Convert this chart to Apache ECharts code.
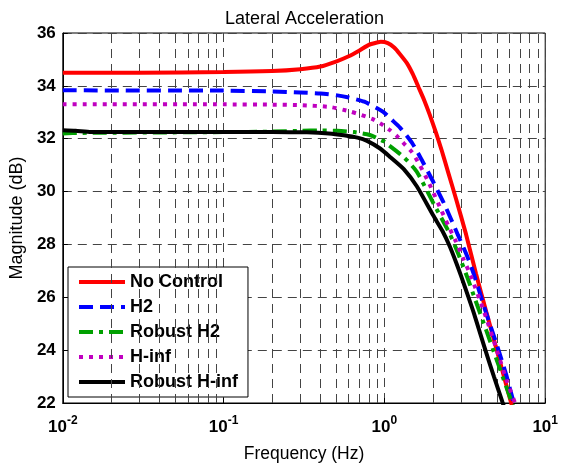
<!DOCTYPE html>
<html>
<head>
<meta charset="utf-8">
<script src="https://cdn.jsdelivr.net/npm/echarts/dist/echarts.min.js"></script>
<style>
  html, body { margin: 0; padding: 0; background: #fff; }
  #chart { width: 561px; height: 468px; }
</style>
</head>
<body>
<div id="chart"></div>
<script>
// series names
var seriesNames = ['No Control', 'H2', 'Robust H2', 'H-inf', 'Robust H-inf']

// No Control
var noControlFreq = [0.01, 0.03, 0.1, 0.2, 0.3, 0.4, 0.5, 0.6, 0.7, 0.8, 0.9, 0.95, 1.05, 1.15, 1.25, 1.38, 1.5, 1.63, 1.77, 1.91, 2.1, 2.26, 2.5, 2.79, 3.22, 3.71, 4.3, 5.0, 6.08, 7.0]
var noControlMag = [34.5, 34.5, 34.52, 34.56, 34.63, 34.73, 34.92, 35.12, 35.34, 35.55, 35.64, 35.67, 35.62, 35.45, 35.2, 34.86, 34.45, 33.95, 33.45, 32.92, 32.2, 31.6, 30.7, 29.72, 28.38, 26.9, 25.45, 24.0, 22.1, 20.8]

// H2
var h2Freq = [0.01, 0.1, 0.2, 0.3, 0.4, 0.51, 0.6, 0.75, 0.9, 1.0, 1.11, 1.25, 1.38, 1.5, 1.63, 1.74, 2.0, 2.37, 2.87, 3.3, 3.61, 4.27, 5.0, 5.7, 6.38, 7.0]
var h2Mag = [33.83, 33.82, 33.79, 33.75, 33.71, 33.64, 33.56, 33.4, 33.15, 32.98, 32.72, 32.42, 32.1, 31.8, 31.42, 31.1, 30.4, 29.5, 28.35, 27.5, 26.85, 25.45, 24.2, 23.1, 22.0, 21.2]

// Robust H2
var robustH2Freq = [0.01, 0.013, 0.1, 0.2, 0.3, 0.4, 0.51, 0.65, 0.78, 0.84, 0.99, 1.04, 1.32, 1.59, 2.06, 2.54, 2.9, 3.29, 3.67, 4.3, 4.92, 5.6, 6.38, 7.0]
var robustH2Mag = [32.2, 32.22, 32.25, 32.27, 32.3, 32.31, 32.3, 32.25, 32.17, 32.11, 31.9, 31.8, 31.3, 30.75, 29.45, 28.42, 27.6, 26.73, 25.91, 24.75, 23.74, 22.78, 21.8, 21.1]

// H-inf
var hinfFreq = [0.01, 0.1, 0.2, 0.3, 0.46, 0.62, 0.84, 0.96, 1.08, 1.19, 1.32, 1.48, 1.66, 1.9, 2.21, 2.5, 2.79, 3.1, 3.45, 4.17, 5.0, 5.8, 6.53, 7.0]
var hinfMag = [33.3, 33.3, 33.29, 33.27, 33.2, 33.02, 32.75, 32.55, 32.33, 32.11, 31.82, 31.5, 31.0, 30.3, 29.42, 28.7, 28.1, 27.45, 26.8, 25.45, 24.0, 22.8, 21.95, 21.4]

// Robust H-inf
var robustHinfFreq = [0.01, 0.012, 0.015, 0.1, 0.2, 0.33, 0.45, 0.56, 0.68, 0.78, 0.94, 1.09, 1.32, 1.59, 2.01, 2.3, 2.54, 2.8, 3.0, 3.6, 4.27, 4.8, 5.41, 6.0]
var robustHinfMag = [32.32, 32.3, 32.25, 32.25, 32.25, 32.24, 32.2, 32.13, 32.04, 31.92, 31.63, 31.3, 30.85, 30.2, 29.1, 28.5, 27.95, 27.3, 26.8, 25.4, 23.95, 23.0, 22.05, 21.25]

// ticks
var xTickExps = ['-2', '-1', '0', '1']
var xMinorTicks = [0.02, 0.03, 0.04, 0.05, 0.06, 0.07, 0.08, 0.09,
  0.2, 0.3, 0.4, 0.5, 0.6, 0.7, 0.8, 0.9,
  2, 3, 4, 5, 6, 7, 8, 9]
var yMin = 22
var yMax = 36
var yStep = 2

var FONT = 'Arial, "Liberation Sans", Helvetica, sans-serif'
var gridLine = { color: '#444', width: 1, type: [9, 6] }

function pairs (xs, ys) {
  return xs.map(function (x, i) { return [x, ys[i]] })
}

function lineSeries (name, xs, ys, color, dash) {
  return {
    name: name,
    type: 'line',
    data: pairs(xs, ys),
    symbol: 'none',
    smooth: 0.2,
    z: 5,
    lineStyle: { color: color, width: 4, type: dash },
    itemStyle: { color: color }
  }
}

var chart = echarts.init(document.getElementById('chart'))

var option = {
  backgroundColor: '#fff',
  animation: false,
  title: {
    text: 'Lateral Acceleration',
    left: 220,
    top: 5,
    textStyle: { fontFamily: FONT, fontSize: 18, fontWeight: 'normal', color: '#000' }
  },
  grid: {
    left: 62,
    right: 11,
    top: 33,
    bottom: 62,
    show: true,
    borderColor: '#000',
    borderWidth: 1,
    backgroundColor: '#fff'
  },
  legend: {
    data: seriesNames,
    orient: 'vertical',
    left: 68,
    top: 267,
    padding: [6, 10, 6, 9],
    itemWidth: 46,
    itemHeight: 14,
    itemGap: 7,
    backgroundColor: '#fff',
    borderColor: '#000',
    borderWidth: 1,
    borderRadius: 0,
    lineStyle: { width: 4 },
    itemStyle: { opacity: 0 },
    textStyle: { fontFamily: FONT, fontSize: 18, fontWeight: 'bold', color: '#000' }
  },
  xAxis: {
    type: 'log',
    logBase: 10,
    min: 0.01,
    max: 10,
    name: 'Frequency (Hz)',
    nameLocation: 'middle',
    nameGap: 42,
    nameTextStyle: { fontFamily: FONT, fontSize: 17.5, color: '#000' },
    axisLine: { lineStyle: { color: '#000' } },
    axisTick: { inside: true, length: 5, lineStyle: { color: '#000' } },
    splitLine: { show: true, lineStyle: gridLine },
    axisLabel: {
      margin: 12,
      formatter: function (v) {
        var e = xTickExps[Math.round(Math.log10(v)) + 2]
        return '{b|10}{s|' + e + '}'
      },
      rich: {
        b: { fontFamily: FONT, fontSize: 17, fontWeight: 'bold', color: '#000' },
        s: { fontFamily: FONT, fontSize: 12, fontWeight: 'bold', color: '#000', padding: [0, 0, 12, 0] }
      }
    }
  },
  yAxis: {
    type: 'value',
    min: yMin,
    max: yMax,
    interval: yStep,
    name: 'Magnitude (dB)',
    nameLocation: 'middle',
    nameGap: 34,
    nameTextStyle: { fontFamily: FONT, fontSize: 18, color: '#000' },
    axisLine: { show: true, lineStyle: { color: '#000' } },
    axisTick: { show: true, inside: true, length: 5, lineStyle: { color: '#000' } },
    splitLine: { show: true, lineStyle: gridLine },
    axisLabel: { margin: 7, fontFamily: FONT, fontSize: 17, fontWeight: 'bold', color: '#000' }
  },
  series: [
    {
      // minor log grid lines
      name: 'grid',
      type: 'line',
      data: [],
      z: 1,
      silent: true,
      markLine: {
        silent: true,
        symbol: 'none',
        label: { show: false },
        lineStyle: gridLine,
        data: xMinorTicks.map(function (v) { return { xAxis: v } })
      }
    },
    lineSeries('No Control', noControlFreq, noControlMag, '#ff0000', 'solid'),
    lineSeries('H2', h2Freq, h2Mag, '#0000ff', [14, 7]),
    lineSeries('Robust H2', robustH2Freq, robustH2Mag, '#00a000', [14, 6, 4, 6]),
    lineSeries('H-inf', hinfFreq, hinfMag, '#c000c0', [4, 6]),
    lineSeries('Robust H-inf', robustHinfFreq, robustHinfMag, '#000000', 'solid')
  ]
}

chart.setOption(option)
</script>
</body>
</html>
